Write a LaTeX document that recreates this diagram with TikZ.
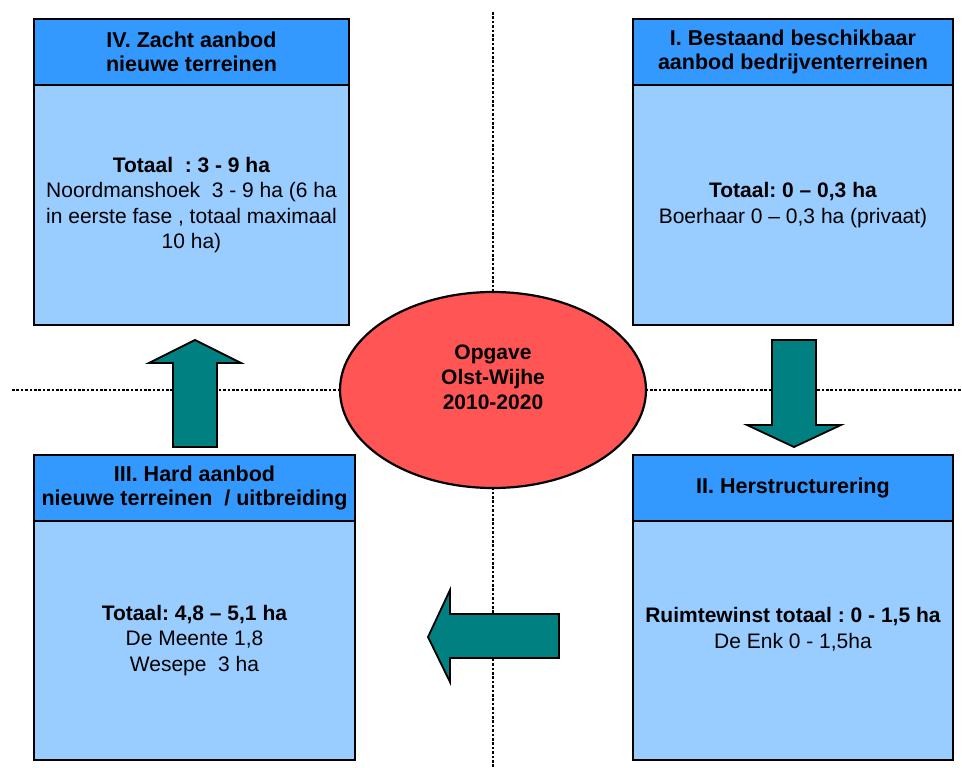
\documentclass[tikz,border=0pt]{standalone}
\usepackage{fontspec}
\setmainfont{Liberation Sans}
\usepackage{tikz}
\usetikzlibrary{positioning,shapes.geometric}
\frenchspacing

\definecolor{kopblauw}{HTML}{3399FF}
\definecolor{rompblauw}{HTML}{99CCFF}
\definecolor{kernrood}{HTML}{FF5555}
\definecolor{pijlgroen}{HTML}{008080}

\begin{document}
\begin{tikzpicture}[x=1pt, y=-1pt,
    kop/.style={draw, line width=2.4pt, fill=kopblauw, anchor=north west, outer sep=0pt,
        inner sep=0pt, align=center, minimum height=66, font=\fontsize{21.5}{24.5}\selectfont\bfseries},
    romp/.style={draw, line width=2.4pt, fill=rompblauw, below=0pt of #1, outer sep=0pt,
        inner sep=0pt, align=center, font=\fontsize{21}{25.5}\selectfont},
    pijl/.style={draw, line width=1.8pt, fill=pijlgroen, line join=miter},
    stippel/.style={line width=2.6pt, dash pattern=on 2.6pt off 1.8pt}]
        \useasboundingbox (0,0) rectangle (962,768);

        % assen
        \draw[stippel] (493,12) -- (493,768);
        \draw[stippel] (12,390) -- (962,390);

        % kwadranten
        \node (h4) [kop, minimum width=315] at (34,19) {IV. Zacht aanbod\\nieuwe terreinen};
        \node (b4) [romp=h4, minimum width=315, minimum height=240]
            {\textbf{Totaal~~: 3 - 9 ha}\\Noordmanshoek~~3 - 9 ha (6 ha\\in eerste fase , totaal maximaal\\10 ha)};

        \node (h1) [kop, minimum width=320] at (633,19) {I. Bestaand beschikbaar\\aanbod bedrijventerreinen};
        \node (b1) [romp=h1, minimum width=320, minimum height=240]
            {\textbf{Totaal: 0 – 0,3 ha}\\Boerhaar~0 – 0,3 ha (privaat)};

        \node (h3) [kop, minimum width=321] at (34,455) {III. Hard aanbod\\nieuwe terreinen~~/ uitbreiding};
        \node (b3) [romp=h3, minimum width=321, minimum height=239]
            {\textbf{Totaal: 4,8 – 5,1 ha}\\De Meente 1,8\\Wesepe~~3 ha};

        \node (h2) [kop, minimum width=320] at (633,455) {II. Herstructurering};
        \node (b2) [romp=h2, minimum width=320, minimum height=239]
            {\textbf{Ruimtewinst totaal : 0 - 1,5 ha}\\De Enk 0 - 1,5ha\\~};

        \node (kern) [draw, ellipse, line width=2.2pt, fill=kernrood, minimum width=306, minimum height=196,
            inner sep=0pt, align=center, font=\fontsize{21}{25}\selectfont\bfseries] at (493,390)
            {Opgave\\Olst-Wijhe\\2010-2020\\~};

        % pijlen
        \draw[pijl] (794,340) -- (816,340) -- (816,425) -- (841,425) -- (794,447)
            -- (747,425) -- (772,425) -- (772,340) -- cycle;
        \draw[pijl] (559,614) -- (559,658) -- (450,658) -- (450,682) -- (428,637)
            -- (450,590) -- (450,614) -- cycle;
        \draw[pijl] (173,447) -- (173,363) -- (149,363) -- (195,340) -- (241,363)
            -- (217,363) -- (217,447) -- cycle;
    \end{tikzpicture}
\end{document}
